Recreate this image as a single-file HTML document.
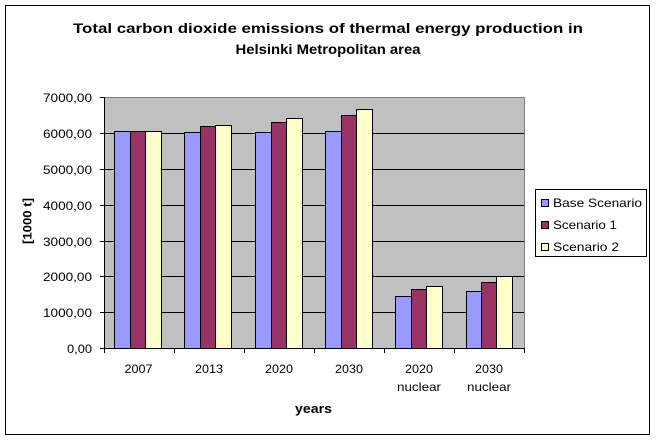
<!DOCTYPE html>
<html><head><meta charset="utf-8"><style>
html,body{margin:0;padding:0;background:#fff;}
svg{display:block;}
text{font-family:"Liberation Sans",Arial,sans-serif;fill:#000;}
</style></head><body>
<svg width="656" height="440" viewBox="0 0 656 440" xmlns="http://www.w3.org/2000/svg">
<rect x="0" y="0" width="656" height="440" fill="#fff"/>
<rect x="5.5" y="5.5" width="644" height="429" fill="#fff" stroke="#000" stroke-width="1"/>
<!-- title -->
<text x="73" y="33" font-size="13.5" font-weight="bold" textLength="510" lengthAdjust="spacingAndGlyphs">Total carbon dioxide emissions of thermal energy production in</text>
<text x="328" y="54" font-size="13.5" font-weight="bold" text-anchor="middle" textLength="185" lengthAdjust="spacingAndGlyphs">Helsinki Metropolitan area</text>
<!-- plot area -->
<rect x="104" y="97" width="420" height="251" fill="#C0C0C0"/>
<g stroke="#000" stroke-width="1" shape-rendering="crispEdges">
<line x1="104" y1="133.5" x2="524" y2="133.5"/>
<line x1="104" y1="169.5" x2="524" y2="169.5"/>
<line x1="104" y1="205.5" x2="524" y2="205.5"/>
<line x1="104" y1="241.5" x2="524" y2="241.5"/>
<line x1="104" y1="276.5" x2="524" y2="276.5"/>
<line x1="104" y1="312.5" x2="524" y2="312.5"/>
</g>
<g stroke="#808080" stroke-width="1" shape-rendering="crispEdges">
<line x1="104" y1="97.5" x2="524.5" y2="97.5"/>
<line x1="524.5" y1="97" x2="524.5" y2="348"/>
</g>
<!-- bars -->
<g stroke="#000" stroke-width="1" shape-rendering="crispEdges">
<rect x="114.5" y="131.5" width="16" height="217" fill="#9999FF"/>
<rect x="130.5" y="131.5" width="15" height="217" fill="#993366"/>
<rect x="145.5" y="131.5" width="16" height="217" fill="#FFFFCC"/>

<rect x="184.5" y="132.5" width="16" height="216" fill="#9999FF"/>
<rect x="200.5" y="126.5" width="15" height="222" fill="#993366"/>
<rect x="215.5" y="125.5" width="16" height="223" fill="#FFFFCC"/>

<rect x="255.5" y="132.5" width="16" height="216" fill="#9999FF"/>
<rect x="271.5" y="122.5" width="15" height="226" fill="#993366"/>
<rect x="286.5" y="118.5" width="16" height="230" fill="#FFFFCC"/>

<rect x="325.5" y="131.5" width="16" height="217" fill="#9999FF"/>
<rect x="341.5" y="115.5" width="15" height="233" fill="#993366"/>
<rect x="356.5" y="109.5" width="16" height="239" fill="#FFFFCC"/>

<rect x="395.5" y="296.5" width="16" height="52" fill="#9999FF"/>
<rect x="411.5" y="289.5" width="15" height="59" fill="#993366"/>
<rect x="426.5" y="286.5" width="16" height="62" fill="#FFFFCC"/>

<rect x="466.5" y="291.5" width="15" height="57" fill="#9999FF"/>
<rect x="481.5" y="282.5" width="15" height="66" fill="#993366"/>
<rect x="496.5" y="276.5" width="16" height="72" fill="#FFFFCC"/>
</g>
<!-- axes -->
<g stroke="#000" stroke-width="1" shape-rendering="crispEdges">
<line x1="104.5" y1="97" x2="104.5" y2="349"/>
<line x1="104" y1="348.5" x2="525" y2="348.5"/>
<line x1="100" y1="97.5" x2="104" y2="97.5"/>
<line x1="100" y1="133.5" x2="104" y2="133.5"/>
<line x1="100" y1="169.5" x2="104" y2="169.5"/>
<line x1="100" y1="205.5" x2="104" y2="205.5"/>
<line x1="100" y1="241.5" x2="104" y2="241.5"/>
<line x1="100" y1="276.5" x2="104" y2="276.5"/>
<line x1="100" y1="312.5" x2="104" y2="312.5"/>
<line x1="100" y1="348.5" x2="104" y2="348.5"/>
<line x1="104.5" y1="348" x2="104.5" y2="353"/>
<line x1="174.5" y1="348" x2="174.5" y2="353"/>
<line x1="244.5" y1="348" x2="244.5" y2="353"/>
<line x1="314.5" y1="348" x2="314.5" y2="353"/>
<line x1="384.5" y1="348" x2="384.5" y2="353"/>
<line x1="454.5" y1="348" x2="454.5" y2="353"/>
<line x1="524.5" y1="348" x2="524.5" y2="353"/>
</g>
<!-- y tick labels -->
<g font-size="11.5" text-anchor="end">
<text x="92" y="102" textLength="49" lengthAdjust="spacingAndGlyphs">7000,00</text>
<text x="92" y="138" textLength="49" lengthAdjust="spacingAndGlyphs">6000,00</text>
<text x="92" y="174" textLength="49" lengthAdjust="spacingAndGlyphs">5000,00</text>
<text x="92" y="210" textLength="49" lengthAdjust="spacingAndGlyphs">4000,00</text>
<text x="92" y="246" textLength="49" lengthAdjust="spacingAndGlyphs">3000,00</text>
<text x="92" y="281" textLength="49" lengthAdjust="spacingAndGlyphs">2000,00</text>
<text x="92" y="317" textLength="49" lengthAdjust="spacingAndGlyphs">1000,00</text>
<text x="92" y="353" textLength="25" lengthAdjust="spacingAndGlyphs">0,00</text>
</g>
<!-- x labels -->
<g font-size="12" text-anchor="middle">
<text x="138.5" y="373" textLength="28" lengthAdjust="spacingAndGlyphs">2007</text>
<text x="209" y="373" textLength="28" lengthAdjust="spacingAndGlyphs">2013</text>
<text x="279" y="373" textLength="28" lengthAdjust="spacingAndGlyphs">2020</text>
<text x="349" y="373" textLength="28" lengthAdjust="spacingAndGlyphs">2030</text>
<text x="419" y="373" textLength="28" lengthAdjust="spacingAndGlyphs">2020</text>
<text x="419" y="391" textLength="44" lengthAdjust="spacingAndGlyphs">nuclear</text>
<text x="489" y="373" textLength="28" lengthAdjust="spacingAndGlyphs">2030</text>
<text x="489" y="391" textLength="44" lengthAdjust="spacingAndGlyphs">nuclear</text>
</g>
<text x="313.5" y="413" font-size="13" font-weight="bold" text-anchor="middle" textLength="37" lengthAdjust="spacingAndGlyphs">years</text>
<text transform="translate(31.5,221) rotate(-90)" font-size="12" font-weight="bold" text-anchor="middle" textLength="46" lengthAdjust="spacingAndGlyphs">[1000 t]</text>
<!-- legend -->
<rect x="535.5" y="189.5" width="111" height="67" fill="#fff" stroke="#000" stroke-width="1" shape-rendering="crispEdges"/>
<g stroke="#000" stroke-width="1" shape-rendering="crispEdges">
<rect x="541.5" y="199.5" width="7" height="7" fill="#9999FF"/>
<rect x="541.5" y="221.5" width="7" height="7" fill="#993366"/>
<rect x="541.5" y="243.5" width="7" height="7" fill="#FFFFCC"/>
</g>
<g font-size="12">
<text x="553" y="207" textLength="89" lengthAdjust="spacingAndGlyphs">Base Scenario</text>
<text x="553" y="229" textLength="64" lengthAdjust="spacingAndGlyphs">Scenario 1</text>
<text x="553" y="251" textLength="66" lengthAdjust="spacingAndGlyphs">Scenario 2</text>
</g>
</svg>
</body></html>
